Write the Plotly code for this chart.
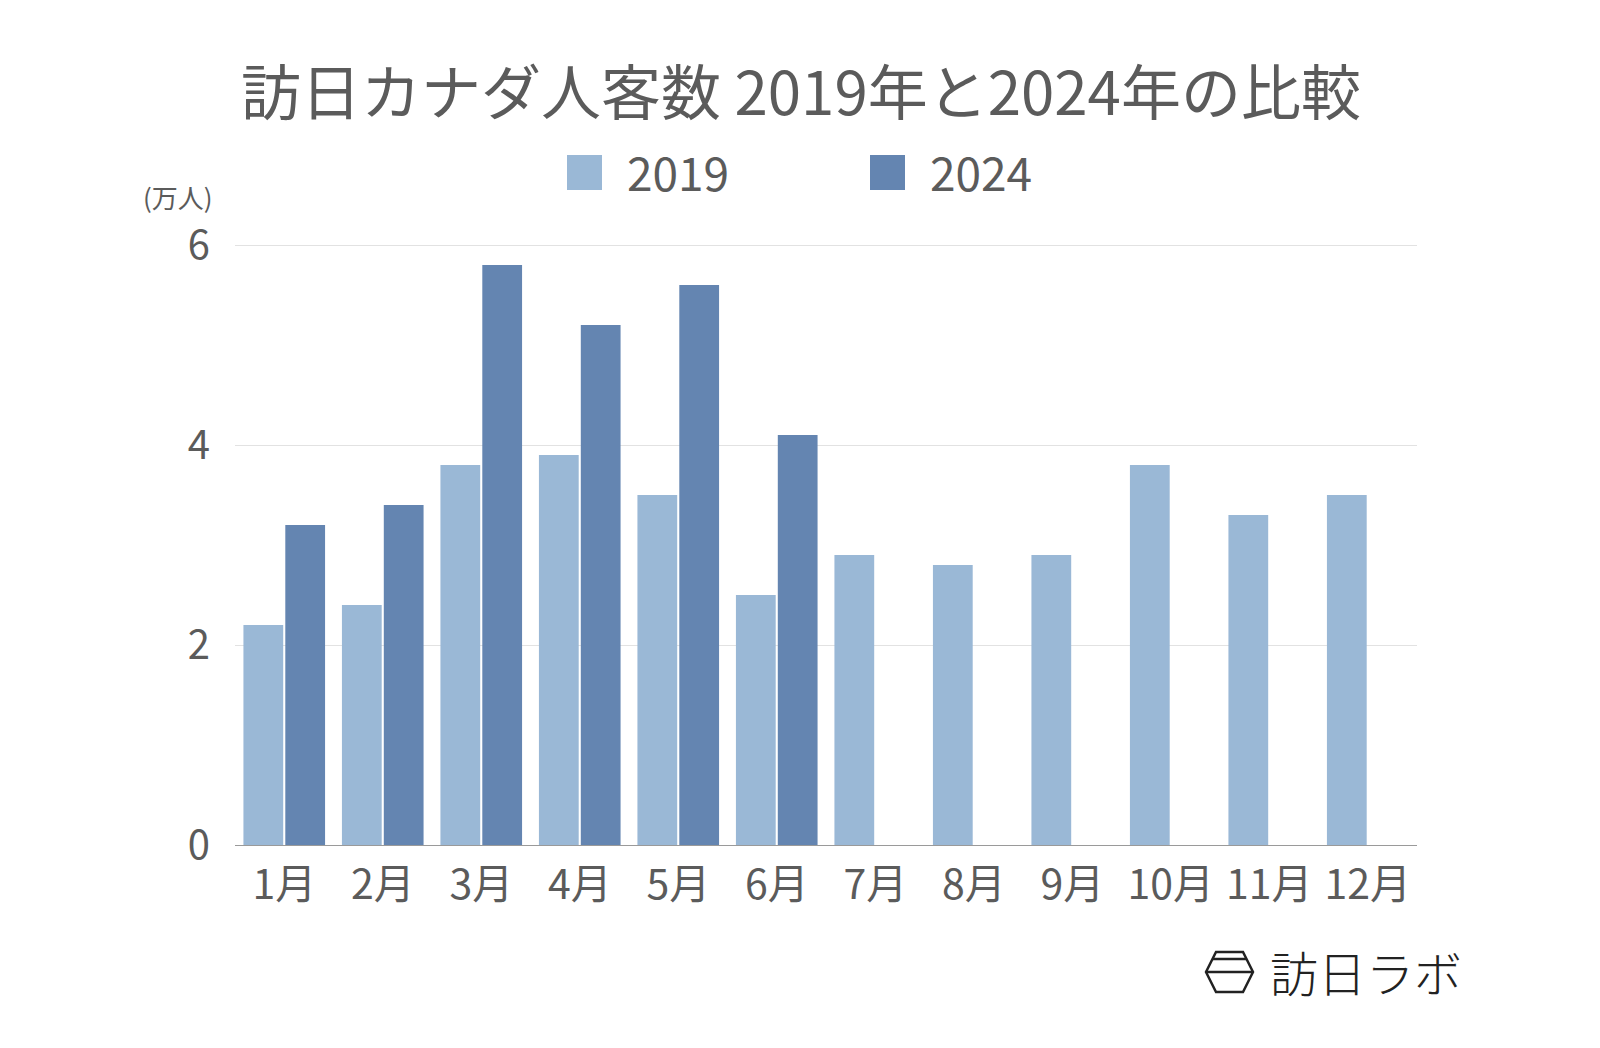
import plotly.graph_objects as go

months = ["1月", "2月", "3月", "4月", "5月", "6月", "7月", "8月", "9月", "10月", "11月", "12月"]
v2019 = [2.2, 2.4, 3.8, 3.9, 3.5, 2.5, 2.9, 2.8, 2.9, 3.8, 3.3, 3.5]
v2024 = [3.2, 3.4, 5.8, 5.2, 5.6, 4.1, None, None, None, None, None, None]
series_names = ["2019", "2024"]
y_ticks = [0, 2, 4, 6]

C19 = "#9ab8d6"
C24 = "#6485b1"
TXT = "#5b5b5b"
FONT = "Noto Sans CJK JP, Noto Sans, sans-serif"

OFF = 8  # page body margin
W, H = 1600 - OFF, 1048 - OFF
# plot area in page pixels
L, R, T, B = 235, 1417, 240, 845
YMAX = 6.05


def px(x):
    return (x - L) / (R - L)


def py(y):
    return (B - y) / (B - T)


fig = go.Figure()
fig.add_bar(x=months, y=v2019, name=series_names[0], marker=dict(color=C19, line=dict(width=0)))
fig.add_bar(x=months, y=v2024, name=series_names[1], marker=dict(color=C24, line=dict(width=0)))

shapes = []
annotations = []

# custom legend
for (x0, x1, tx, col, name) in [(567, 602, 625, C19, series_names[0]), (870, 905, 928, C24, series_names[1])]:
    shapes.append(dict(type="rect", xref="paper", yref="paper", x0=px(x0), x1=px(x1),
                       y0=py(190), y1=py(155), fillcolor=col, line=dict(width=0)))
    annotations.append(dict(text=name, xref="paper", yref="paper", x=px(tx), y=py(171),
                            xanchor="left", yanchor="middle", showarrow=False,
                            font=dict(size=46, color=TXT, family=FONT)))

# y-axis unit
annotations.append(dict(text="(万人)", xref="paper", yref="paper", x=px(178), y=py(197),
                        xanchor="center", yanchor="middle", showarrow=False,
                        font=dict(size=26, color=TXT, family=FONT)))

# logo
hex_pts = [(1216, 952), (1243, 952), (1253, 972), (1243, 992), (1216, 992), (1206, 972)]
path = "M " + " L ".join(f"{px(x)},{py(y)}" for x, y in hex_pts) + " Z"
shapes.append(dict(type="path", xref="paper", yref="paper", path=path,
                   line=dict(color="#222222", width=2.5)))
shapes.append(dict(type="line", xref="paper", yref="paper", x0=px(1213), x1=px(1246),
                   y0=py(959), y1=py(959), line=dict(color="#222222", width=2.5)))
shapes.append(dict(type="line", xref="paper", yref="paper", x0=px(1206), x1=px(1253),
                   y0=py(972), y1=py(972), line=dict(color="#222222", width=2.5)))
annotations.append(dict(text="訪日ラボ", xref="paper", yref="paper", x=px(1366), y=py(971),
                        xanchor="center", yanchor="middle", showarrow=False,
                        font=dict(size=48, color="#222222", family="Noto Sans CJK JP", weight=300)))

fig.update_layout(
    width=W, height=H,
    margin=dict(l=L - OFF, r=W - (R - OFF), t=T - OFF, b=H - (B - OFF), pad=0),
    paper_bgcolor="white", plot_bgcolor="white",
    showlegend=False,
    barmode="group", bargap=0.15, bargroupgap=0.05,
    title=dict(text="訪日カナダ人客数 2019年と2024年の比較", x=(801 - OFF) / W, xanchor="center",
               y=1 - (94 - OFF) / H, yanchor="middle",
               font=dict(size=60, color=TXT, family=FONT)),
    shapes=shapes, annotations=annotations,
    font=dict(family=FONT, color=TXT),
)
fig.update_xaxes(showgrid=False, showline=True, linecolor="#9a9a9a", linewidth=1.2,
                 ticks="outside", ticklen=4, tickcolor="rgba(0,0,0,0)",
                 tickfont=dict(size=41, color=TXT, family=FONT), fixedrange=True)
fig.update_yaxes(range=[0, YMAX], tickvals=y_ticks, showgrid=True, gridcolor="#e2e2e2", gridwidth=1,
                 zeroline=False, showline=False,
                 ticks="outside", ticklen=16, tickcolor="rgba(0,0,0,0)",
                 tickfont=dict(size=40, color=TXT, family=FONT), fixedrange=True)

fig.write_html("out.html")
